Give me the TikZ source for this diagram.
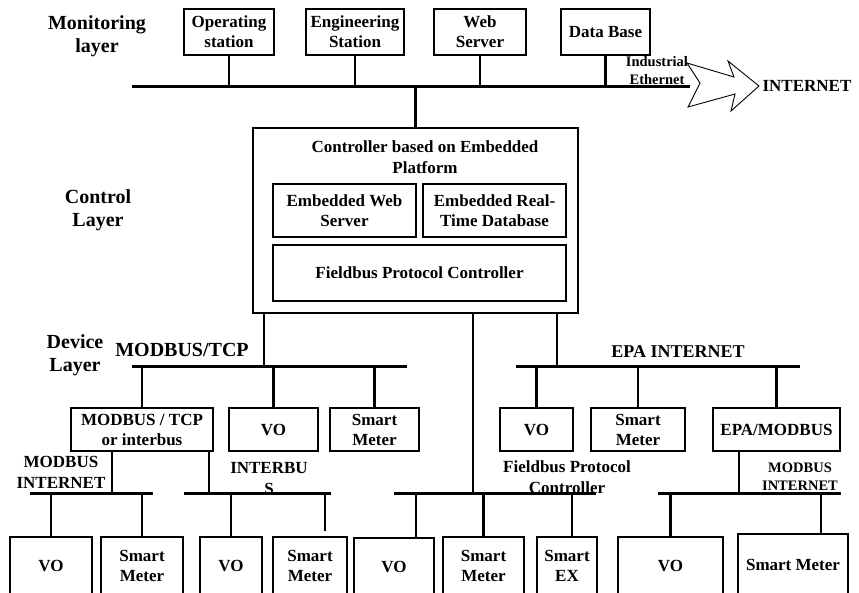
\documentclass[tikz,border=0pt]{standalone}
\usepackage{fontspec}
\setmainfont{Liberation Serif}
\usepackage{tikz}

\begin{document}
\begin{tikzpicture}[
    x=1pt, y=-1pt,
    box/.style={
        rectangle,
        draw=black,
        line width=2.5pt,
        align=center,
        inner sep=0pt,
        font=\bfseries\fontsize{17}{20}\selectfont
    },
    monbox/.style={box, minimum height=46pt},
    devbox/.style={box, minimum height=43pt},
    endbox/.style={box, minimum height=57pt},
    bus/.style={line width=3pt},
    wire/.style={line width=2.8pt},
    layerlabel/.style={align=center, font=\bfseries\fontsize{20}{23}\selectfont},
    buslabel/.style={align=center, font=\bfseries\fontsize{17}{21}\selectfont},
    smalllabel/.style={align=center, font=\bfseries\fontsize{14.5}{18}\selectfont}
]
\useasboundingbox (0,0) rectangle (859,592);
\clip (0,0) rectangle (859,592);

% Layer labels
\node (monlbl) [layerlabel] at (97,36) {Monitoring\\layer};
\node (ctrllbl) [layerlabel] at (98,210) {Control\\Layer};
\node (devlbl) [layerlabel] at (75,355) {Device\\Layer};

% Monitoring layer
\node (opst) [monbox, minimum width=90pt] at (229,32) {Operating\\station};
\node (engst) [monbox, minimum width=98pt] at (355,32) {Engineering\\Station};
\node (websrv) [monbox, minimum width=92pt] at (480,32) {Web\\Server};
\node (database) [monbox, minimum width=89pt] at (605.5,32) {Data Base};

\coordinate (monbusL) at (132,86);
\coordinate (monbusR) at (690,86);
\draw [bus] (monbusL) -- (monbusR);
\draw [wire] (opst) -- (opst |- monbusL);
\draw [wire] (engst) -- (engst |- monbusL);
\draw [wire] (websrv) -- (websrv |- monbusL);
\draw [wire] (database) -- (database |- monbusL);

\node (indeth) [smalllabel] at (657,71) {Industrial\\Ethernet};
\draw [line width=0.9pt, fill=white] (687,63) -- (734,77) -- (728,61) -- (759,86) -- (731,111) -- (735,94) -- (688,107) -- (700,83) -- cycle;
\node (inetlbl) [buslabel] at (807,86) {INTERNET};

% Control layer
\node (ctrl) [box, minimum width=325pt, minimum height=185pt] at (415.5,220.5) {};
\node (ctrltitle) [buslabel] at (425,157) {Controller based on Embedded\\Platform};
\node (embweb) [box, minimum width=143pt, minimum height=53pt] at (344.5,210.5) {Embedded Web\\Server};
\node (embrtdb) [box, minimum width=143pt, minimum height=53pt] at (494.5,210.5) {Embedded Real-\\Time Database};
\node (fbctrl) [box, minimum width=293pt, minimum height=56pt] at (419.5,273) {Fieldbus Protocol Controller};
\draw [wire] (ctrl) -- (ctrl |- monbusL);

% Device layer buses
\coordinate (mbtcpL) at (132,366);
\coordinate (mbtcpR) at (407,366);
\coordinate (mbtcpC) at (264,366);
\coordinate (epaL) at (516,366);
\coordinate (epaR) at (800,366);
\coordinate (epaC) at (557,366);
\draw [bus] (mbtcpL) -- (mbtcpR);
\draw [bus] (epaL) -- (epaR);
\draw [wire] (mbtcpC) -- (mbtcpC |- ctrl.south);
\draw [wire] (epaC) -- (epaC |- ctrl.south);

\node (mbtcplbl) [layerlabel] at (182,350) {MODBUS/TCP};
\node (epalbl) [align=center, font=\bfseries\fontsize{18}{21}\selectfont] at (678,352) {EPA INTERNET};

\node (mbgw) [devbox, minimum width=142pt] at (142,429.5) {MODBUS / TCP\\or interbus};
\node (vo1) [devbox, minimum width=89pt] at (273.5,429.5) {VO};
\node (sm1) [devbox, minimum width=89pt] at (374.5,429.5) {Smart\\Meter};
\node (vo2) [devbox, minimum width=73pt] at (536.5,429.5) {VO};
\node (sm2) [devbox, minimum width=94pt] at (638,429.5) {Smart\\Meter};
\node (epagw) [devbox, minimum width=127pt] at (776.5,429.5) {EPA/MODBUS};

\draw [wire] (mbgw) -- (mbgw |- mbtcpL);
\draw [wire] (vo1) -- (vo1 |- mbtcpL);
\draw [wire] (sm1) -- (sm1 |- mbtcpL);
\draw [wire] (vo2) -- (vo2 |- epaL);
\draw [wire] (sm2) -- (sm2 |- epaL);
\draw [wire] (epagw) -- (epagw |- epaL);

% Field buses
\coordinate (mbinL) at (30,493);
\coordinate (mbinR) at (153,493);
\coordinate (mbinC) at (112,493);
\coordinate (ibL) at (184,493);
\coordinate (ibR) at (331,493);
\coordinate (ibC) at (209,493);
\coordinate (fbL) at (394,493);
\coordinate (fbR) at (596,493);
\coordinate (fbC) at (473,493);
\coordinate (epinL) at (658,493);
\coordinate (epinR) at (841,493);
\coordinate (epinC) at (739,493);
\draw [bus] (mbinL) -- (mbinR);
\draw [bus] (ibL) -- (ibR);
\draw [bus] (fbL) -- (fbR);
\draw [bus] (epinL) -- (epinR);
\draw [wire] (mbinC) -- (mbinC |- mbgw.south);
\draw [wire] (ibC) -- (ibC |- mbgw.south);
\draw [wire] (fbC) -- (fbC |- ctrl.south);
\draw [wire] (epinC) -- (epinC |- epagw.south);

\node (mbinlbl) [buslabel] at (61,472) {MODBUS\\INTERNET};
\node (iblbl) [buslabel] at (269,479) {INTERBU\\S};
\node (fblbl) [buslabel] at (567,477) {Fieldbus Protocol\\Controller};
\node (epinlbl) [smalllabel] at (800,477) {MODBUS\\INTERNET};

% End devices
\node (vo3) [endbox, minimum width=82pt] at (51,565.5) {VO};
\node (sm3) [endbox, minimum width=82pt] at (142,565.5) {Smart\\Meter};
\node (vo4) [endbox, minimum width=62pt] at (231,565.5) {VO};
\node (sm4) [endbox, minimum width=74pt] at (310,565.5) {Smart\\Meter};
\node (vo5) [endbox, minimum width=80pt] at (394,566.5) {VO};
\node (sm5) [endbox, minimum width=81pt] at (483.5,565.5) {Smart\\Meter};
\node (smex) [endbox, minimum width=60pt] at (567,565.5) {Smart\\EX};
\node (vo6) [endbox, minimum width=105pt] at (670.5,565.5) {VO};
\node (sm6) [endbox, minimum width=110pt, minimum height=61pt] at (793,564.5) {Smart Meter};

\draw [wire] (vo3) -- (vo3 |- mbinL);
\draw [wire] (sm3) -- (sm3 |- mbinL);
\draw [wire] (vo4) -- (vo4 |- ibL);
\draw [wire] ([xshift=15pt, yshift=5pt]sm4.north) -- ([xshift=15pt]sm4.north |- ibL);
\draw [wire] ([xshift=22pt]vo5.north) -- ([xshift=22pt]vo5.north |- fbL);
\draw [wire] (sm5) -- (sm5 |- fbL);
\draw [wire] ([xshift=5pt]smex.north) -- ([xshift=5pt]smex.north |- fbL);
\draw [wire] (vo6) -- (vo6 |- epinL);
\draw [wire] ([xshift=28pt]sm6.north) -- ([xshift=28pt]sm6.north |- epinL);

\end{tikzpicture}
\end{document}
